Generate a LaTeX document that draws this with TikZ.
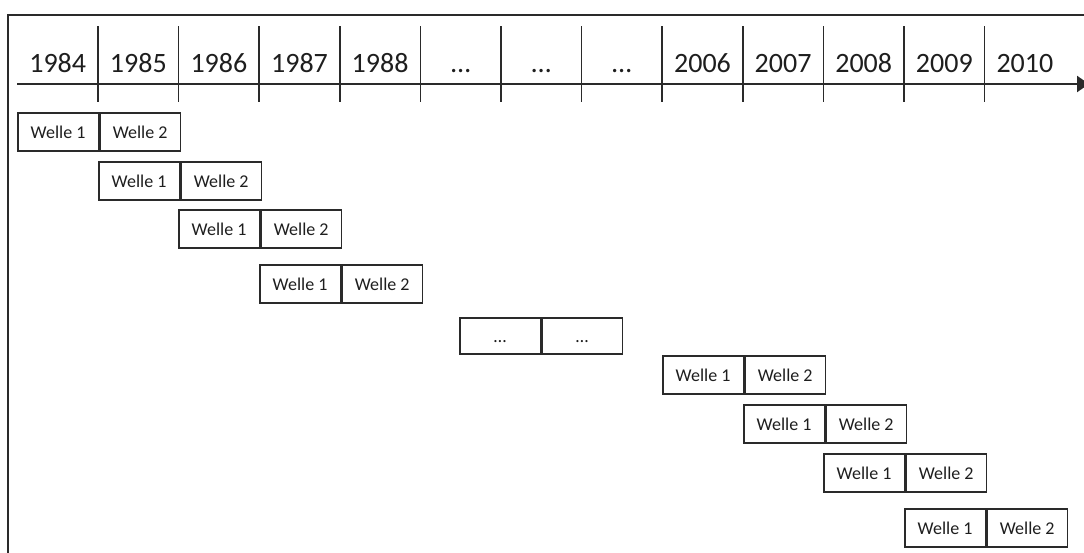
\documentclass[tikz,border=0pt]{standalone}
\usepackage{fontspec}
\setmainfont{Carlito}
\usetikzlibrary{arrows.meta}
\definecolor{ink}{HTML}{1E1E1E}
\definecolor{linec}{HTML}{2A2A2A}
\begin{document}
\begin{tikzpicture}[x=1pt,y=-1pt,
  cellbox/.style={draw=linec,line width=1.5pt,minimum width=80.6pt,minimum height=38pt,
    inner sep=0pt,anchor=north west,font=\fontsize{18}{20}\selectfont,text=ink,
    text height=12.5pt,text depth=0pt},
  dotbox/.style={cellbox,minimum height=36pt},
  yearlbl/.style={anchor=base,font=\fontsize{28}{32}\selectfont,text=ink,inner sep=0pt},
  tickline/.style={draw=linec,line width=1.7pt},
  frameline/.style={draw=linec,line width=1.6pt},
  axisline/.style={draw=linec,line width=2.2pt,-{Triangle[length=12pt,width=16pt]}},
]
\useasboundingbox (0,0) rectangle (1084,552);
% frame
\draw[frameline] (1090,15) -- (8,15) -- (8,560);
% axis
\coordinate (axs) at (17,84);
\coordinate (axe) at (1089,84);
\draw[axisline] (axs) -- (axe);
% ticks
\foreach \k in {0,...,11}{
  \coordinate (tt\k) at ({98+\k*80.6},26);
  \coordinate (tb\k) at ({98+\k*80.6},102);
  \draw[tickline] (tt\k) -- (tb\k);
}
% years
\foreach \yr [count=\i from 0] in {1984,1985,1986,1987,1988,…,…,…,2006,2007,2008,2009,2010}{
  \node[yearlbl] (yr\i) at ({57.7+\i*80.6},72) {\yr};
}
% boxes
\node[cellbox] (r1a) at (17,112) {Welle 1};
\node[cellbox] (r1b) at (r1a.north east) {Welle 2};
\node[cellbox] (r2a) at (98,161) {Welle 1};
\node[cellbox] (r2b) at (r2a.north east) {Welle 2};
\node[cellbox] (r3a) at (178,209) {Welle 1};
\node[cellbox] (r3b) at (r3a.north east) {Welle 2};
\node[cellbox] (r4a) at (259,264) {Welle 1};
\node[cellbox] (r4b) at (r4a.north east) {Welle 2};
\node[dotbox] (r5a) at (459,317) {…};
\node[dotbox] (r5b) at (r5a.north east) {…};
\node[cellbox] (r6a) at (662,355) {Welle 1};
\node[cellbox] (r6b) at (r6a.north east) {Welle 2};
\node[cellbox] (r7a) at (743,404) {Welle 1};
\node[cellbox] (r7b) at (r7a.north east) {Welle 2};
\node[cellbox] (r8a) at (823,453) {Welle 1};
\node[cellbox] (r8b) at (r8a.north east) {Welle 2};
\node[cellbox] (r9a) at (904,508) {Welle 1};
\node[cellbox] (r9b) at (r9a.north east) {Welle 2};
\end{tikzpicture}
\end{document}
